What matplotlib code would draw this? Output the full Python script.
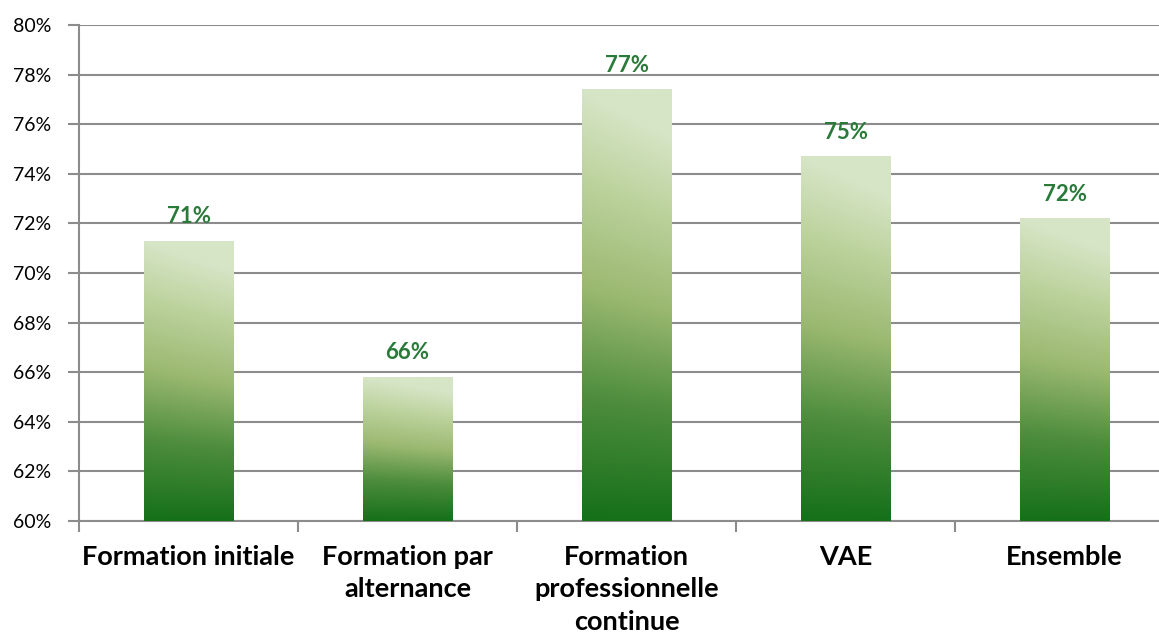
import matplotlib.pyplot as plt
import numpy as np
from matplotlib.colors import LinearSegmentedColormap

categories = ["Formation initiale", "Formation par\nalternance", "Formation\nprofessionnelle\ncontinue", "VAE", "Ensemble"]
values = [71.3, 65.8, 77.4, 74.7, 72.2]
labels = ["71%", "66%", "77%", "75%", "72%"]

plt.rcParams['font.family'] = ['Lato', 'DejaVu Sans']

fig = plt.figure(figsize=(11.59, 6.34), dpi=100)
ax = fig.add_axes([79 / 1159, 113 / 634, 1095 / 1159, 496 / 634])

ymin, ymax = 60, 80
x = np.arange(len(categories))
width = 0.41

# gradient for the bars: dark green at the bottom, pale at the top
cmap = LinearSegmentedColormap.from_list("greens", [
    (0.0, "#16701a"), (0.28, "#4c8c3c"), (0.55, "#9cb972"), (0.8, "#bdd39e"), (1.0, "#d6e5c6")])

bars = ax.bar(x, [v - ymin for v in values], width, bottom=ymin, color="none", zorder=3)
for b in bars:
    x0, y0 = b.get_x(), b.get_y()
    x1, y1 = x0 + b.get_width(), y0 + b.get_height()
    # vertical gradient relative to the bar height, slight lightening to the right
    yy = np.linspace(0, 1, 200)[:, None]
    xx = np.linspace(0, 1, 50)[None, :]
    grad = np.clip(yy + 0.12 * xx * yy, 0, 1)
    im = ax.imshow(grad, extent=[x0, x1, y0, y1], origin="lower", cmap=cmap,
                   vmin=0, vmax=1, aspect="auto", zorder=3)
    im.set_clip_path(b)

for xi, v, lab in zip(x, values, labels):
    ax.annotate(lab, (xi, v), xytext=(0, 10), textcoords="offset points",
                ha="center", va="bottom", fontsize=16, fontweight="bold",
                color="#2a7a3a", zorder=4)

ax.set_xlim(-0.5, len(categories) - 0.5)
ax.set_ylim(ymin, ymax)
ax.set_yticks(np.arange(60, 81, 2))
ax.set_yticklabels([f"{t}%" for t in range(60, 81, 2)], fontsize=14)
ax.set_xticks(x)
ax.set_xticklabels(categories, fontsize=19.5, fontweight="bold", linespacing=1.43)
ax.set_xticks(np.arange(-0.5, len(categories), 1), minor=True)
ax.tick_params(axis="x", which="major", length=0, pad=17)
ax.tick_params(axis="x", which="minor", length=8, color="#8c8c8c", width=1.5)
ax.tick_params(axis="y", length=8, color="#8c8c8c", width=1.5, pad=12)

ax.grid(axis="y", color="#8c8c8c", linewidth=1.5, zorder=0)
ax.set_axisbelow(True)
for s in ["top", "right"]:
    ax.spines[s].set_visible(False)
for s in ["left", "bottom"]:
    ax.spines[s].set_color("#8c8c8c")
    ax.spines[s].set_linewidth(1.5)

fig.savefig("out.png", dpi=100)
